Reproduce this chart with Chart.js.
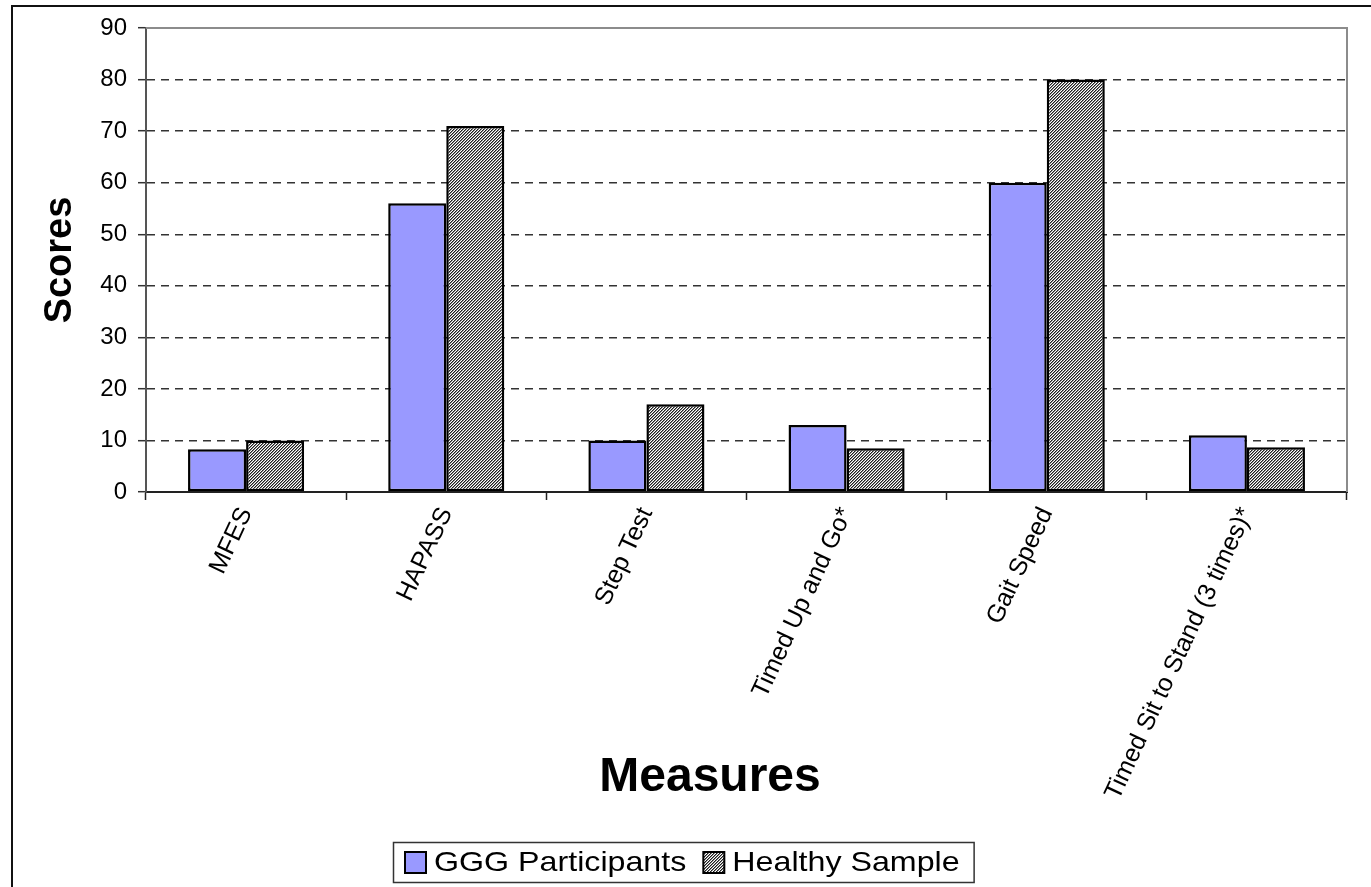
<!DOCTYPE html>
<html>
<head>
<meta charset="utf-8">
<script src="https://cdn.jsdelivr.net/npm/chart.js@4"></script>
<style>
  html, body { margin: 0; padding: 0; background: #fff; }
  #wrap { width: 1371px; height: 887px; }
</style>
</head>
<body>
<div id="wrap"><canvas id="c" width="1371" height="887"></canvas></div>
<script>
// Measures compared between the two groups
const categories = ['MFES', 'HAPASS', 'Step Test', 'Timed Up and Go*', 'Gait Speed', 'Timed Sit to Stand (3 times)*'];
const gggParticipants = [8.3, 56, 10, 13, 60, 11];
const healthySample = [10, 71, 17, 8.5, 80, 8.7];
const yTicks = [0, 10, 20, 30, 40, 50, 60, 70, 80, 90];
const seriesNames = ['GGG Participants', 'Healthy Sample'];

const FONT = '"Liberation Sans", Arial, sans-serif';

// fine diagonal hatch used for the healthy sample bars
function makeHatch() {
  const p = document.createElement('canvas');
  p.width = 3; p.height = 3;
  const g = p.getContext('2d');
  const shades = ['#1e1e1e', '#8a8a8a', '#ffffff'];
  for (let y = 0; y < 3; y++) {
    for (let x = 0; x < 3; x++) {
      g.fillStyle = shades[(x + y) % 3];
      g.fillRect(x, y, 1, 1);
    }
  }
  return g.createPattern(p, 'repeat');
}
const hatch = makeHatch();

// page frame, plot frame, axis titles and boxed legend
const decorations = {
  id: 'decorations',
  beforeDraw(chart) {
    const ctx = chart.ctx;
    ctx.save();
    ctx.fillStyle = '#fff';
    ctx.fillRect(0, 0, chart.width, chart.height);
    ctx.strokeStyle = '#111';
    ctx.lineWidth = 2;
    ctx.beginPath();
    ctx.moveTo(12, chart.height + 2);
    ctx.lineTo(12, 6);
    ctx.lineTo(chart.width + 2, 6);
    ctx.stroke();
    ctx.restore();
  },
  beforeDatasetsDraw(chart) {
    const {ctx, chartArea: a} = chart;
    ctx.save();
    ctx.strokeStyle = '#8c8c8c';
    ctx.lineWidth = 2;
    ctx.beginPath();
    ctx.moveTo(a.left, a.top);
    ctx.lineTo(a.right, a.top);
    ctx.lineTo(a.right, a.bottom);
    ctx.stroke();
    ctx.restore();
  },
  afterDraw(chart) {
    const {ctx, chartArea: a} = chart;
    ctx.save();
    ctx.fillStyle = '#000';
    ctx.textAlign = 'center';
    ctx.textBaseline = 'middle';
    // y title
    ctx.font = 'bold 38px ' + FONT;
    ctx.save();
    ctx.translate(61, (a.top + a.bottom) / 2);
    ctx.rotate(-Math.PI / 2);
    ctx.fillText('Scores', 0, 0);
    ctx.restore();
    // x title
    ctx.font = 'bold 48px ' + FONT;
    ctx.fillText('Measures', 710, 778);

    // legend
    const lx = 393, ly = 842, lh = 40, sx = 1.15;
    ctx.font = '28px ' + FONT;
    ctx.textAlign = 'left';
    const items = chart.data.datasets.map(ds => ({label: ds.label, fill: ds.backgroundColor}));
    let x = lx + 12;
    const pos = [];
    items.forEach(it => {
      const w = ctx.measureText(it.label).width * sx;
      pos.push({x, w});
      x += 22 + 7 + w + 17;
    });
    const lw = x - 17 + 14 - lx;
    ctx.fillStyle = '#fff';
    ctx.fillRect(lx, ly, lw, lh);
    ctx.strokeStyle = '#333';
    ctx.lineWidth = 1.5;
    ctx.strokeRect(lx + 0.5, ly + 0.5, lw, lh);
    items.forEach((it, i) => {
      const p = pos[i];
      ctx.fillStyle = it.fill;
      ctx.fillRect(p.x, ly + 10, 21, 21);
      ctx.strokeStyle = '#000';
      ctx.lineWidth = 2;
      ctx.strokeRect(p.x, ly + 10, 21, 21);
      ctx.fillStyle = '#000';
      ctx.save();
      ctx.translate(p.x + 29, ly + lh / 2 + 1);
      ctx.scale(sx, 1);
      ctx.fillText(it.label, 0, 0);
      ctx.restore();
    });
    ctx.restore();
  }
};

new Chart(document.getElementById('c'), {
  type: 'bar',
  data: {
    labels: categories,
    datasets: [
      {
        label: seriesNames[0],
        data: gggParticipants,
        backgroundColor: '#9999ff',
        borderColor: '#000',
        borderWidth: 2.5,
        borderSkipped: false
      },
      {
        label: seriesNames[1],
        data: healthySample,
        backgroundColor: hatch,
        borderColor: '#000',
        borderWidth: 2.5,
        borderSkipped: false
      }
    ]
  },
  options: {
    responsive: false,
    animation: false,
    devicePixelRatio: 1,
    layout: { padding: { left: 12, top: 28, right: 24, bottom: 0 } },
    datasets: { bar: { categoryPercentage: 0.58, barPercentage: 1.0 } },
    plugins: {
      legend: { display: false },
      tooltip: { enabled: false }
    },
    scales: {
      x: {
        afterFit(scale) { scale.height = 395; },
        grid: {
          drawOnChartArea: false,
          drawTicks: true,
          tickLength: 8,
          tickColor: '#222',
          tickWidth: 1.5
        },
        border: { color: '#222', width: 2 },
        ticks: {
          minRotation: 65,
          maxRotation: 65,
          autoSkip: false,
          padding: 3,
          color: '#000',
          font: { family: FONT, size: 25 }
        }
      },
      y: {
        min: 0,
        max: 90,
        afterFit(scale) { scale.width = 134; },
        afterBuildTicks(scale) { scale.ticks = yTicks.map(v => ({value: v})); },
        grid: {
          color: c => (c.tick && (c.tick.value === 0 || c.tick.value === 90)) ? 'rgba(0,0,0,0)' : '#333',
          lineWidth: 1.4,
          drawTicks: true,
          tickLength: 8,
          tickColor: '#333',
          tickWidth: 1.5,
          tickBorderDash: []
        },
        border: { color: '#555', width: 2, dash: [8, 6] },
        ticks: {
          padding: 11,
          color: '#000',
          font: { family: FONT, size: 24 }
        }
      }
    }
  },
  plugins: [decorations]
});
</script>
</body>
</html>
